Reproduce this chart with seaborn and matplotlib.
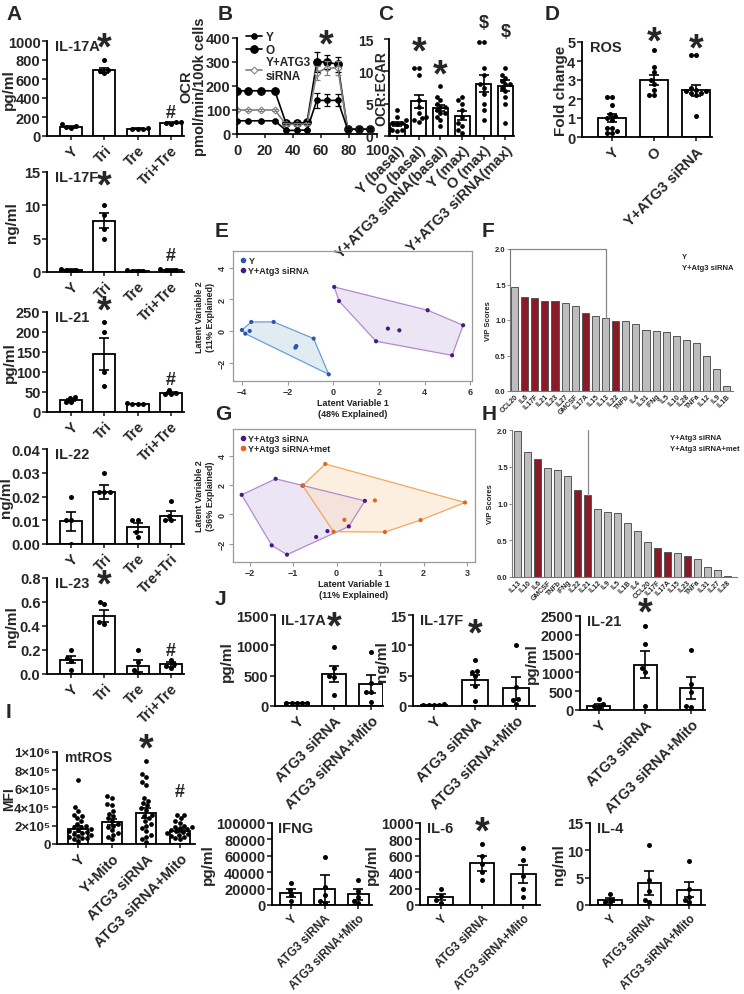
import numpy as np
import pandas as pd
import matplotlib
matplotlib.use("Agg")
import matplotlib.pyplot as plt
from matplotlib.patches import Polygon
from matplotlib.lines import Line2D
import seaborn as sns
import warnings
warnings.filterwarnings("ignore")

sns.set_theme(style="ticks")
plt.rcParams["font.family"] = ["Liberation Sans", "DejaVu Sans"]
plt.rcParams["font.weight"] = "bold"
plt.rcParams["axes.labelweight"] = "bold"

W, H = 744, 995
fig = plt.figure(figsize=(W / 100, H / 100), dpi=100)

# ---------------- DATA ----------------
A_groups = ["Y", "Tri", "Tre", "Tri+Tre"]
A_groups_il22 = ["Y", "Tri", "Tre", "Tre+Tri"]
il17a_means = [95, 690, 75, 140]
il17a_sems = [15, 30, 5, 8]
il17a_pts = [[80, 90, 105, 125], [800, 700, 680, 660], [70, 75, 78, 82], [125, 140, 145, 150]]
il17f_means = [0.3, 7.7, 0.2, 0.3]
il17f_sems = [0.1, 1.1, 0.05, 0.1]
il17f_pts = [[0.2, 0.3, 0.3, 0.4], [10.0, 8.5, 6.5, 5.0], [0.1, 0.2, 0.2, 0.3], [0.2, 0.3, 0.3, 0.4]]
il21_means = [30, 145, 20, 48]
il21_sems = [3, 40, 1, 3]
il21_pts = [[36, 37, 26, 24], [225, 200, 100, 65], [19, 20, 21, 22], [56, 44, 45, 48]]
il22_means = [0.0095, 0.022, 0.007, 0.012]
il22_sems = [0.004, 0.003, 0.002, 0.002]
il22_pts = [[0.02, 0.01, 0.01, 0.0], [0.03, 0.022, 0.022, 0.022], [0.01, 0.01, 0.005, 0.003], [0.018, 0.012, 0.01, 0.01]]
il23_means = [0.12, 0.48, 0.07, 0.08]
il23_sems = [0.03, 0.05, 0.05, 0.02]
il23_pts = [[0.2, 0.13, 0.11, 0.03], [0.6, 0.58, 0.43, 0.42], [0.2, 0.1, 0.03, 0.0], [0.12, 0.08, 0.07, 0.05]]

B_time = [0, 8, 17, 27, 35, 43, 50, 57, 64, 72, 79, 87, 95]
B_Y = [55, 55, 55, 55, 15, 15, 17, 140, 140, 140, 20, 20, 20]
B_Y_err = [3, 3, 3, 3, 3, 3, 3, 30, 25, 25, 3, 3, 3]
B_O = [180, 180, 180, 180, 45, 45, 48, 300, 300, 290, 20, 20, 20]
B_O_err = [5, 5, 5, 5, 5, 5, 5, 40, 30, 30, 3, 3, 3]
B_si = [100, 100, 100, 100, 40, 40, 40, 255, 275, 275, 20, 20, 20]
B_si_err = [4, 4, 4, 4, 4, 4, 4, 30, 30, 30, 3, 3, 3]

C_groups = ["Y (basal)", "O (basal)", "Y+ATG3 siRNA(basal)", "Y (max)", "O (max)", "Y+ATG3 siRNA(max)"]
C_means = [1.8, 5.4, 4.3, 3.1, 8.1, 7.8]
C_sems = [0.3, 1.0, 0.5, 0.7, 1.3, 0.8]
C_pts = [[4, 3, 2.5, 2, 2, 1.8, 1.5, 1.5, 1.2, 1, 1, 0.8],
         [10.5, 10.5, 9.5, 5.5, 4.5, 3.5, 3, 2.8, 2.5, 2.2],
         [7.7, 6, 5.5, 5, 4.5, 4.5, 4, 3.5, 3.5, 3, 2.5, 1.5],
         [6, 5.5, 5, 4, 3, 2, 1.5, 1, 0.5],
         [14.5, 14.5, 10.5, 9.5, 8, 7.5, 6.5, 5, 4, 2.5],
         [10.5, 9.5, 9, 8.5, 8, 8, 7.5, 7, 6, 5, 2]]

D_groups = ["Y", "O", "Y+ATG3 siRNA"]
D_means = [1.0, 3.0, 2.45]
D_sems = [0.2, 0.25, 0.3]
D_pts = [[2.1, 2.1, 1.7, 1.2, 1.1, 1.0, 0.9, 0.5, 0.5, 0.3, 0.2, 0.2],
         [4.6, 3.7, 3.4, 3.0, 2.8, 2.5, 2.2, 2.2],
         [4.3, 4.3, 2.6, 2.5, 2.4, 2.4, 2.3, 2.3, 2.2, 1.1]]

E_Y_x = [-4.0, -3.85, -3.66, -3.59, -2.61, -1.66, -1.62, -0.86, -0.20]
E_Y_y = [0.06, -0.17, 0.0, 0.57, 0.57, -1.05, -0.95, -0.48, -2.74]
E_si_x = [0.04, 0.25, 1.87, 2.39, 2.89, 4.13, 5.68, 5.20]
E_si_y = [2.78, 1.89, -0.65, 0.15, 0.04, 1.31, 0.36, -1.54]

F_names = ["CCL20", "IL6", "IL17F", "IL21", "IL23", "IL27", "GMCSF", "IL17A", "IL15", "IL13", "IL22",
           "TNFb", "IL4", "IL31", "IFNg", "IL5", "IL10", "IL28", "TNFa", "IL12", "IL9", "IL1B"]
F_scores = [1.46, 1.33, 1.31, 1.27, 1.27, 1.24, 1.20, 1.10, 1.06, 1.03, 0.99,
            0.98, 0.94, 0.86, 0.85, 0.83, 0.78, 0.72, 0.67, 0.50, 0.31, 0.07]
F_red = ["IL6", "IL17F", "IL21", "IL23", "IL17A", "IL22"]

G_si_x = [-2.18, -1.40, -0.78, 0.65, 0.28, -0.21, -0.47, -1.49, -1.14]
G_si_y = [1.33, 2.42, 1.96, 0.92, -0.82, -1.14, -1.54, -2.11, -2.74]
G_met_x = [-0.26, -0.78, 0.88, 0.18, -0.07, 1.11, 1.93, 2.95]
G_met_y = [3.43, 1.96, 0.95, -0.37, -1.18, -1.20, -0.39, 0.81]

H_names = ["IL13", "IL10", "IL6", "GMCSF", "TNFb", "IFNg", "IL22", "IL21", "IL12", "IL9", "IL5",
           "IL1B", "IL4", "CCL20", "IL17F", "IL17A", "IL15", "IL23", "TNFa", "IL31", "IL27", "IL28"]
H_scores = [1.99, 1.70, 1.61, 1.48, 1.45, 1.37, 1.19, 1.12, 0.93, 0.88, 0.87,
            0.74, 0.63, 0.47, 0.40, 0.34, 0.32, 0.29, 0.25, 0.13, 0.10, 0.01]
H_red = ["IL6", "IL22", "IL21", "IL17F", "IL17A", "IL23"]

I_groups = ["Y", "Y+Mito", "ATG3 siRNA", "ATG3 siRNA+Mito"]
I_means = [1.65e5, 2.4e5, 3.4e5, 1.45e5]
I_sems = [0.3e5, 0.35e5, 0.55e5, 0.15e5]
I_pts = [[7e5, 4e5, 3.6e5, 3.2e5, 3e5, 2.8e5, 2.5e5, 2.2e5, 2e5, 1.9e5, 1.8e5, 1.6e5, 1.5e5, 1.4e5,
          1.3e5, 1.2e5, 1.1e5, 1e5, 0.9e5, 0.8e5, 0.7e5, 0.6e5, 0.5e5, 0.3e5],
         [5.2e5, 5e5, 4.4e5, 4.2e5, 3.6e5, 3.3e5, 3e5, 2.8e5, 2.5e5, 2.2e5, 2e5, 1.8e5, 1.5e5, 1.2e5,
          1e5, 0.8e5, 0.5e5],
         [9e5, 7.6e5, 7.3e5, 6.7e5, 6.4e5, 5e5, 4.7e5, 4.5e5, 4.2e5, 3.9e5, 3.7e5, 3.2e5, 3e5, 2.8e5,
          2.5e5, 2.2e5, 2e5, 1.7e5, 1.4e5, 1e5, 0.8e5, 0.5e5, 0.2e5],
         [3.2e5, 3.1e5, 2.8e5, 2.5e5, 2.3e5, 2e5, 1.9e5, 1.8e5, 1.7e5, 1.6e5, 1.5e5, 1.4e5, 1.3e5,
          1.2e5, 1.1e5, 1e5, 0.9e5, 0.8e5, 0.6e5, 0.5e5]]

J_groups = ["Y", "ATG3 siRNA", "ATG3 siRNA+Mito"]
J17a_means = [50, 527, 362]
J17a_sems = [5, 125, 150]
J17a_pts = [[45, 50, 50, 55, 50], [980, 626, 495, 478, 180], [890, 380, 230, 230, 66]]
J17f_means = [0.2, 4.3, 2.9]
J17f_sems = [0.03, 0.8, 1.9]
J17f_pts = [[0.15, 0.2, 0.2, 0.25, 0.2], [7.6, 5.7, 5.6, 4.9, 3.3, 0.9], [10.0, 3.1, 1.2, 1.0, 0.3]]
J21_means = [115, 1200, 577]
J21_sems = [55, 360, 290]
J21_pts = [[293, 160, 106, 80], [2243, 1755, 1117, 1003, 115], [1596, 691, 479, 115, 80]]
Jifng_means = [15000, 20000, 13000]
Jifng_sems = [5000, 16000, 7000]
Jifng_pts = [[27000, 18000, 12000, 5000], [58000, 22000, 12000, 5000, 2000], [30000, 17000, 10000, 5000, 2000]]
Jil6_means = [100, 510, 380]
Jil6_sems = [40, 90, 110]
Jil6_pts = [[200, 110, 60, 30], [750, 600, 500, 400, 300], [700, 550, 350, 200, 100]]
Jil4_means = [0.9, 4.0, 2.8]
Jil4_sems = [0.4, 2.2, 1.4]
Jil4_pts = [[2.0, 1.0, 0.5, 0.2], [11.0, 4.5, 2.5, 1.0, 0.5], [8.0, 3.0, 1.5, 1.0, 0.5]]


# ---------------- HELPERS ----------------
def add_ax(x0, y0, x1, y1):
    ax = fig.add_axes([x0 / W, 1 - y1 / H, (x1 - x0) / W, (y1 - y0) / H])
    ax.patch.set_visible(False)
    return ax


def set_ylabel_px(ax, box, px):
    x0, y0, x1, y1 = box
    ax.yaxis.set_label_coords((px - x0) / (x1 - x0), 0.5)


def style_axes(ax, lw=1.3):
    sns.despine(ax=ax)
    for s in ["left", "bottom"]:
        ax.spines[s].set_linewidth(lw)
        ax.spines[s].set_color("black")


def bar_panel(box, groups, means, sems, pts, ylim, yticks, yticklabels=None, ylabel=None,
              title=None, xlim=None, width=0.66, marks=(), fs=10.5, xfs=None, ptsize=3.6,
              ylab_px=None, ypad=1.2, ylfs=None):
    ax = add_ax(*box)
    sns.barplot(x=groups, y=means, order=groups, color="white", edgecolor="black",
                linewidth=1.3, width=width, ax=ax, zorder=1)
    xs = [g for g, p in zip(groups, pts) for _ in p]
    ys = [v for p in pts for v in p]
    sns.swarmplot(x=xs, y=ys, order=groups, color="black", size=ptsize, ax=ax, zorder=3)
    ax.errorbar(range(len(groups)), means, yerr=sems, fmt="none", ecolor="black",
                elinewidth=1.2, capsize=3.5, capthick=1.2, zorder=4)
    style_axes(ax)
    ax.set_ylim(*ylim)
    ax.set_yticks(yticks)
    if yticklabels is not None:
        ax.set_yticklabels(yticklabels)
    ax.set_xticks(range(len(groups)))
    ax.set_xticklabels(groups, rotation=45, ha="right", rotation_mode="anchor")
    if xlim is not None:
        ax.set_xlim(*xlim)
    ax.tick_params(axis="y", length=3.5, width=1.2, labelsize=fs, pad=ypad)
    ax.tick_params(axis="x", length=3, width=1.2, labelsize=xfs or fs, pad=2)
    ax.set_xlabel("")
    ax.set_ylabel(ylabel if ylabel else "", fontsize=ylfs or (fs + 0.5), labelpad=1)
    if ylab_px is not None:
        set_ylabel_px(ax, box, ylab_px)
    if title:
        ax.text(0.06, 1.02, title, transform=ax.transAxes, ha="left", va="top",
                fontsize=fs if fs >= 10 else 10, fontweight="bold")
    for (i, sym, yv) in marks:
        if sym == "*":
            ax.text(i, yv, "*", ha="center", va="center", fontsize=27, fontweight="bold")
        else:
            ax.text(i, yv, sym, ha="center", va="center", fontsize=13, fontweight="bold")
    return ax


def panel_letter(x, y, s):
    fig.text(x / W, 1 - y / H, s, fontsize=15, fontweight="bold", ha="left", va="center")


def hull(xs, ys):
    pts = sorted(set(zip(xs, ys)))
    if len(pts) <= 2:
        return pts
    def cross(o, a, b):
        return (a[0] - o[0]) * (b[1] - o[1]) - (a[1] - o[1]) * (b[0] - o[0])
    lower, upper = [], []
    for p in pts:
        while len(lower) >= 2 and cross(lower[-2], lower[-1], p) <= 0:
            lower.pop()
        lower.append(p)
    for p in reversed(pts):
        while len(upper) >= 2 and cross(upper[-2], upper[-1], p) <= 0:
            upper.pop()
        upper.append(p)
    return lower[:-1] + upper[:-1]


def pls_panel(box, sets, xlim, ylim, xticks, yticks, xlabel, ylabel):
    ax = add_ax(*box)
    for (xs, ys, col, fill, edge, lab) in sets:
        ax.add_patch(Polygon(hull(xs, ys), closed=True, facecolor=fill, edgecolor="none",
                             alpha=0.55, zorder=1))
        ax.add_patch(Polygon(hull(xs, ys), closed=True, facecolor="none", edgecolor=edge,
                             lw=0.9, zorder=2))
    for (xs, ys, col, fill, edge, lab) in sets:
        sns.scatterplot(x=xs, y=ys, color=col, s=9, edgecolor="none", ax=ax, zorder=3)
    ax.set_xlim(*xlim)
    ax.set_ylim(*ylim)
    ax.set_xticks(xticks)
    ax.set_yticks(yticks)
    for s in ax.spines.values():
        s.set_color("#9a9a9a")
        s.set_linewidth(0.9)
    ax.tick_params(axis="both", labelsize=6.5, colors="#9a9a9a", length=3, width=0.8,
                   labelcolor="#333333", pad=1.5)
    plt.setp(ax.get_yticklabels(), rotation=90, va="center")
    ax.set_xlabel(xlabel, fontsize=6.5, color="#222222", labelpad=1, linespacing=1.3)
    ax.set_ylabel(ylabel, fontsize=6.5, color="#222222", labelpad=2, linespacing=1.3)
    handles = [Line2D([], [], marker="o", ls="none", color=s[2], markersize=3) for s in sets]
    ax.legend(handles, [s[5] for s in sets], loc="upper left", frameon=False, fontsize=6.5,
              handletextpad=0.1, borderaxespad=0.2, labelspacing=0.1, handlelength=1.0)
    return ax


def vip_panel(box, names, scores, reds, xlim, labs, labx):
    ax = add_ax(*box)
    cols = ["#8b1a28" if n in reds else "#bdbdbd" for n in names]
    sns.barplot(x=names, y=scores, order=names, hue=names, palette=cols, legend=False,
                edgecolor="#555555", linewidth=0.7, width=0.7, saturation=1, ax=ax)
    sns.despine(ax=ax)
    for s in ["left", "bottom"]:
        ax.spines[s].set_color("#777777")
        ax.spines[s].set_linewidth(0.8)
    ax.set_ylim(0, 2.0)
    ax.set_xlim(*xlim)
    ax.set_yticks([0, 0.5, 1.0, 1.5, 2.0])
    ax.set_yticklabels(["0.0", "0.5", "1.0", "1.5", "2.0"])
    ax.tick_params(axis="y", labelsize=5.5, length=2, width=0.6, color="#777777", pad=1)
    ax.tick_params(axis="x", labelsize=5, length=0, pad=1)
    ax.set_xticks(range(len(names)))
    ax.set_xticklabels(names, rotation=45, ha="right", rotation_mode="anchor")
    ax.set_xlabel("")
    ax.set_ylabel("VIP Scores", fontsize=5.5, labelpad=2)
    for k, t in enumerate(labs):
        ax.text(labx, 0.97 - k * 0.075, t, transform=ax.transAxes, fontsize=5.5, ha="left", va="top")
    return ax


# ---------------- PANEL A ----------------
A_xlim = (-0.73, 3.4)
bar_panel((47, 42, 184, 137), A_groups, il17a_means, il17a_sems, il17a_pts, (0, 1000),
          [0, 200, 400, 600, 800, 1000], ylabel="pg/ml", title="IL-17A", xlim=A_xlim,
          marks=[(1, "*", 920), (3, "#", 250)], ylab_px=16)
bar_panel((47, 173, 184, 273), A_groups, il17f_means, il17f_sems, il17f_pts, (0, 15),
          [0, 5, 10, 15], ylabel="ng/ml", title="IL-17F", xlim=A_xlim,
          marks=[(1, "*", 12.8), (3, "#", 2.5)], ylab_px=19)
bar_panel((47, 313, 184, 413), A_groups, il21_means, il21_sems, il21_pts, (0, 250),
          [0, 50, 100, 150, 200, 250], ylabel="pg/ml", title="IL-21", xlim=A_xlim,
          marks=[(1, "*", 252), (3, "#", 80)], ylab_px=17)
bar_panel((47, 450, 184, 545), A_groups_il22, il22_means, il22_sems, il22_pts, (0, 0.04),
          [0, 0.01, 0.02, 0.03, 0.04], yticklabels=["0.00", "0.01", "0.02", "0.03", "0.04"],
          ylabel="ng/ml", title="IL-22", xlim=A_xlim, ylab_px=13)
bar_panel((47, 579, 184, 675), A_groups, il23_means, il23_sems, il23_pts, (0, 0.8),
          [0, 0.2, 0.4, 0.6, 0.8], yticklabels=["0.0", "0.2", "0.4", "0.6", "0.8"],
          ylabel="ng/ml", title="IL-23", xlim=A_xlim,
          marks=[(1, "*", 0.74), (3, "#", 0.2)], ylab_px=19)

# ---------------- PANEL B ----------------
boxB = (237, 39, 377, 135)
axB = add_ax(*boxB)
sns.lineplot(x=B_time, y=B_O, color="black", marker="o", markersize=5.5, lw=1.2, ax=axB,
             markeredgecolor="black", label="O")
sns.lineplot(x=B_time, y=B_si, color="#808080", marker="D", markersize=3.5, lw=1.2, ax=axB,
             markerfacecolor="white", markeredgecolor="#808080", label="Y+ATG3\nsiRNA")
sns.lineplot(x=B_time, y=B_Y, color="black", marker="o", markersize=4, lw=1.2, ax=axB,
             markeredgecolor="black", label="Y")
for ys, es, c in [(B_O, B_O_err, "black"), (B_si, B_si_err, "#808080"), (B_Y, B_Y_err, "black")]:
    axB.errorbar(B_time, ys, yerr=es, fmt="none", ecolor=c, elinewidth=0.9, capsize=2, capthick=0.9)
style_axes(axB)
axB.set_xlim(0, 100)
axB.set_ylim(0, 400)
axB.set_xticks([0, 20, 40, 60, 80, 100])
axB.set_yticks([0, 100, 200, 300, 400])
axB.tick_params(axis="both", labelsize=10.5, length=3.5, width=1.2, pad=1.2)
axB.tick_params(axis="x", length=3, pad=3.5)
axB.set_ylabel("OCR\npmol/min/100k cells", fontsize=10.5, linespacing=1.0)
set_ylabel_px(axB, boxB, 207)
h, l = axB.get_legend_handles_labels()
axB.legend([h[2], h[0], h[1]], [l[2], l[0], l[1]], loc="upper left", frameon=False, fontsize=8.5,
           handlelength=1.4, handletextpad=0.3, labelspacing=0.05, borderaxespad=0.0,
           bbox_to_anchor=(0.03, 1.12))
axB.text(64, 370, "*", ha="center", va="center", fontsize=27, fontweight="bold")

# ---------------- PANEL C ----------------
boxC = (389, 40, 514, 137)
bar_panel(boxC, C_groups, C_means, C_sems, C_pts, (0, 15), [0, 5, 10, 15],
          ylabel="OCR:ECAR", xlim=(-0.38, 5.4), width=0.69, ptsize=3.4, ypad=7.5, ylfs=10,
          fs=10, xfs=10.5,
          marks=[(1, "*", 12.9), (2, "*", 9.3), (4, "$", 17.5), (5, "$", 16.2)], ylab_px=388)

# ---------------- PANEL D ----------------
bar_panel((582, 43, 712, 138), D_groups, D_means, D_sems, D_pts, (0, 5), [0, 1, 2, 3, 4, 5],
          ylabel="Fold change", title="ROS", xlim=(-0.71, 2.38), width=0.67,
          marks=[(1, "*", 4.95), (2, "*", 4.6)], ylab_px=568)

# ---------------- PANEL E ----------------
pls_panel((233, 252, 472, 382),
          [(E_Y_x, E_Y_y, "#2b55b0", "#c9dbe8", "#6a9fd8", "Y"),
           (E_si_x, E_si_y, "#4b1780", "#ddd0ea", "#b48ad0", "Y+Atg3 siRNA")],
          (-4.39, 6.07), (-3.16, 5.05), [-4, -2, 0, 2, 4, 6], [-2, 0, 2, 4],
          "Latent Variable 1\n(48% Explained)", "Latent Variable 2\n(11% Explained)")

# ---------------- PANEL F ----------------
axF = vip_panel((510, 250, 733, 392), F_names, F_scores, F_red, (-0.45, 21.6),
                ["Y", "Y+Atg3 siRNA"], 0.77)
axF.plot([-0.45, 9, 9], [2.0, 2.0, F_scores[9]], color="#888888", lw=0.9, clip_on=False)

# ---------------- PANEL G ----------------
pls_panel((233, 430, 475, 563),
          [(G_si_x, G_si_y, "#4b1780", "#ddd0ea", "#b48ad0", "Y+Atg3 siRNA"),
           (G_met_x, G_met_y, "#e0661a", "#fbe2c8", "#f0a860", "Y+Atg3 siRNA+met")],
          (-2.38, 3.18), (-3.24, 5.81), [-2, -1, 0, 1, 2, 3], [-2, 0, 2, 4],
          "Latent Variable 1\n(11% Explained)", "Latent Variable 2\n(36% Explained)")

# ---------------- PANEL H ----------------
axH = vip_panel((512, 431, 737, 578), H_names, H_scores, H_red, (-0.6, 22.0),
                ["Y+Atg3 siRNA", "Y+Atg3 siRNA+met"], 0.70)
axH.plot([7, 7], [2.0, H_scores[7]], color="#888888", lw=0.9, clip_on=False)

# ---------------- PANEL I ----------------
bar_panel((57, 753, 195, 845), I_groups, I_means, I_sems, I_pts, (0, 1e6),
          [0, 2e5, 4e5, 6e5, 8e5, 1e6],
          yticklabels=["0", "2×10⁵", "4×10⁵", "6×10⁵", "8×10⁵", "1×10⁶"],
          ylabel="MFI", title="mtROS", xlim=(-0.62, 3.44), width=0.6, ptsize=3.4,
          fs=9.5, xfs=10.5, marks=[(2, "*", 1.03e6), (3, "#", 5.7e5)], ylab_px=16)

# ---------------- PANEL J ----------------
bar_panel((275, 616, 383, 707), J_groups, J17a_means, J17a_sems, J17a_pts, (0, 1500),
          [0, 500, 1000, 1500], ylabel="pg/ml", title="IL-17A", xlim=(-0.59, 2.32), width=0.65,
          marks=[(1, "*", 1290)])
bar_panel((413, 616, 535, 707), J_groups, J17f_means, J17f_sems, J17f_pts, (0, 15),
          [0, 5, 10, 15], ylabel="ng/ml", title="IL-17F", xlim=(-0.51, 2.46), width=0.65,
          marks=[(1, "*", 11.8)])
bar_panel((580, 617, 705, 711), J_groups, J21_means, J21_sems, J21_pts, (0, 2500),
          [0, 500, 1000, 1500, 2000, 2500], ylabel="pg/ml", title="IL-21", xlim=(-0.41, 2.3),
          width=0.5, marks=[(1, "*", 2570)])
bar_panel((272, 824, 372, 906), J_groups, Jifng_means, Jifng_sems, Jifng_pts, (0, 100000),
          [0, 20000, 40000, 60000, 80000, 100000], ylabel="pg/ml", title="IFNG",
          xlim=(-0.55, 2.4), width=0.6, xfs=8.5)
bar_panel((420, 824, 540, 906), J_groups, Jil6_means, Jil6_sems, Jil6_pts, (0, 1000),
          [0, 200, 400, 600, 800, 1000], ylabel="pg/ml", title="IL-6",
          xlim=(-0.5, 2.4), width=0.6, marks=[(1, "*", 880)], xfs=8.5)
bar_panel((590, 824, 705, 906), J_groups, Jil4_means, Jil4_sems, Jil4_pts, (0, 15),
          [0, 5, 10, 15], ylabel="ng/ml", title="IL-4",
          xlim=(-0.5, 2.4), width=0.6, xfs=8.5)

# ---------------- LETTERS ----------------
for x, y, s in [(6, 14, "A"), (218, 14, "B"), (378, 14, "C"), (545, 14, "D"),
                (215, 232, "E"), (482, 232, "F"), (215, 414, "G"), (482, 414, "H"),
                (6, 712, "I"), (215, 600, "J")]:
    panel_letter(x, y, s)

fig.savefig("out.png", dpi=100)
